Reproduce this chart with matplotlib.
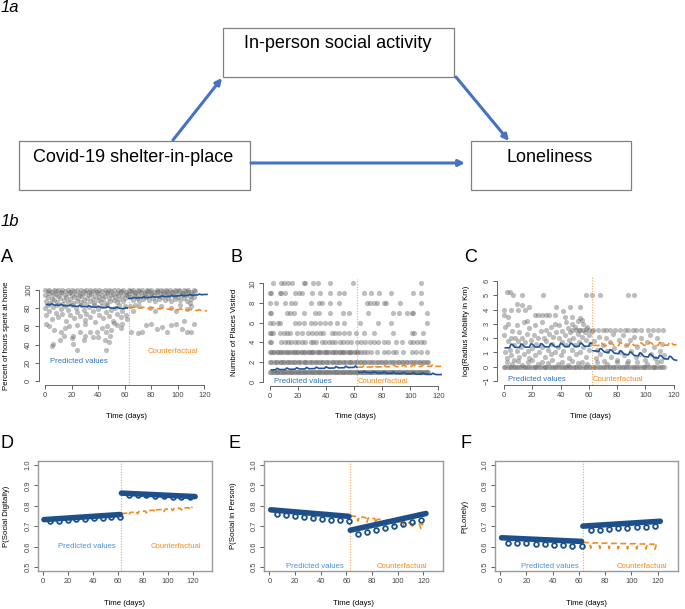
#!/usr/bin/env python3

import numpy as np
from matplotlib import pyplot as plt
from matplotlib.patches import Rectangle

# * Configuration

FIG_W, FIG_H = 685, 609
DPI = 100

BLUE_LINE = "#1f5597"
BLUE_DOT = "#1d4f8b"
BLUE_TEXT = "#2e72c0"
BLUE_TEXT_LIGHT = "#4d8fd8"
ORANGE = "#f28b1e"
ORANGE_VLINE = "#f6a65e"
GRAY_PT = "#6e6e6e"
ARROW = "#4472c4"
SMALL = 5.4

plt.rcParams["font.family"] = ["Liberation Sans", "DejaVu Sans"]

# * Data: panel A (percent of hours at home)

A_TOP_ROW = [(0,100),(2,99),(3,100),(5,98),(7,100),(8,99),(10,100),(12,97),(13,100),(15,99),
             (17,100),(19,98),(20,100),(22,99),(24,100),(26,97),(27,100),(29,99),(31,100),(33,98),
             (34,100),(36,99),(38,100),(40,97),(41,100),(43,99),(45,100),(47,98),(48,100),(50,99),
             (52,100),(54,97),(55,100),(57,99),(59,100),(61,98),(63,100),(64,99),(66,100),(68,98),
             (70,100),(71,99),(73,100),(75,97),(77,100),(78,99),(80,100),(82,98),(84,100),(85,99),
             (87,100),(89,97),(91,100),(92,99),(94,100),(96,98),(98,100),(99,99),(101,100),(103,97),
             (105,100),(106,99),(108,100),(110,98),(112,100)]
A_PRE_DENSE = [(0,95),(1,88),(2,92),(3,97),(4,86),(5,90),(6,94),(7,89),(8,96),(9,87),(10,93),
               (11,91),(12,98),(13,85),(14,89),(15,95),(16,92),(17,87),(18,97),(19,90),(20,94),
               (21,86),(22,92),(23,96),(24,88),(25,91),(26,95),(27,87),(28,93),(29,89),(30,97),
               (31,85),(32,91),(33,94),(34,88),(35,96),(36,90),(37,86),(38,93),(39,98),(40,89),
               (41,92),(42,87),(43,95),(44,90),(45,93),(46,86),(47,97),(48,91),(49,88),(50,94),
               (51,96),(52,89),(53,92),(54,87),(55,95),(56,90),(57,98),(58,93),(59,88),(60,91),
               (61,96),(62,94)]
A_PRE_MID = [(0,80),(1,72),(2,84),(3,77),(5,68),(6,81),(8,75),(9,83),(10,70),(12,79),(13,74),
             (15,82),(16,66),(17,78),(19,73),(20,84),(22,69),(23,80),(24,76),(26,71),(27,83),
             (29,78),(30,67),(31,74),(33,81),(34,70),(36,77),(37,84),(38,65),(40,79),(41,73),
             (43,82),(44,69),(46,76),(47,83),(48,71),(50,78),(51,66),(53,80),(54,74),(56,84),
             (57,70),(58,77),(60,82),(61,72),(62,68)]
A_PRE_LOW = [(5,39),(6,41),(11,45),(14,50),(21,41),(24,34),(29,45),(34,54),(36,48),(45,45),
             (46,34),(49,50),(48,43),(21,50),(12,54),(7,56),(15,58),(20,47),(26,54),(30,50),
             (39,54),(43,58),(40,48),(46,54),(50,56),(1,63),(30,63),(47,60),(54,61),(57,58),
             (18,60),(24,62),(58,63),(3,60),(52,64)]
A_POST_DENSE = [(63,96),(64,92),(65,99),(66,89),(67,94),(68,97),(69,91),(70,95),(71,88),(72,98),
                (73,93),(74,90),(75,96),(76,92),(77,99),(78,89),(79,94),(80,97),(81,91),(82,95),
                (83,88),(84,98),(85,93),(86,90),(87,96),(88,92),(89,99),(90,89),(91,94),(92,97),
                (93,91),(94,95),(95,88),(96,98),(97,93),(98,90),(99,96),(100,92),(101,99),(102,89),
                (103,94),(104,97),(105,91),(106,95),(107,88),(108,98),(109,93),(110,90),(111,96),
                (112,92),(113,99)]
A_POST_MID = [(64,82),(68,84),(71,82),(79,80),(87,82),(95,80),(102,84),(107,79),(110,82),
              (66,77),(83,77),(99,77),(109,86)]
A_POST_LOW = [(65,54),(70,53),(73,54),(76,61),(80,63),(84,57),(88,59),(92,54),(95,61),(99,63),
              (103,57),(105,66),(107,54),(110,54),(112,63)]

A_PRE_LINE_D = [1,4,5,7,8,11,12,14,15,18,19,21,22,25,26,28,29,32,33,35,36,39,40,42,43,46,47,49,50,
                53,54,56,57,60,61,62]
A_PRE_LINE_V = [84.0,83.8,85.0,83.5,83.4,83.2,84.4,82.9,82.8,82.6,83.8,82.4,82.3,82.1,83.3,81.9,81.8,
                81.6,82.8,81.4,81.3,81.1,82.3,80.9,80.8,80.6,81.8,80.4,80.3,80.1,81.3,79.9,79.8,79.6,
                80.8,80.2]
POST_LINE_D = [63,66,67,69,70,73,74,76,77,80,81,83,84,87,88,90,91,94,95,97,98,101,102,104,105,108,
               109,111,112,115,116,118,119,122]
A_POST_LINE_V = [90.8,91.0,92.0,91.1,91.3,91.5,92.5,91.6,91.8,92.0,93.0,92.1,92.3,92.5,93.5,92.6,92.8,
                 93.0,94.0,93.2,93.4,93.6,94.6,93.7,93.9,94.1,95.1,94.2,94.4,94.6,95.6,94.8,95.0,95.2]
A_CF_LINE_V = [80.8,80.6,81.6,80.5,80.4,80.2,81.2,80.0,79.9,79.8,80.8,79.6,79.5,79.3,80.3,79.1,79.0,
               78.8,79.8,78.7,78.6,78.4,79.4,78.2,78.1,77.9,78.9,77.8,77.7,77.5,78.5,77.4,77.3,77.1]

# * Data: panel B (number of places visited, one list of days per count)

B_ROW_1 = [0,1,2,3,4,5,6,7,8,9,10,11,12,13,14,15,16,17,18,19,20,21,22,23,24,25,26,27,28,29,30,31,32,
           33,34,35,36,37,38,39,40,41,42,43,44,45,46,47,48,49,50,51,52,53,54,55,56,57,58,59,60,61,62,
           63,64,65,66,67,68,69,70,71,72,73,74,75,76,77,78,79,80,81,82,83,84,85,86,87,88,89,90,91,92,
           93,94,95,96,97,98,99,100,101,102,103,104,105,106,107,108,109,110,111,112,113]
B_ROW_2 = [0,1,3,4,5,7,8,9,10,12,13,14,16,17,18,20,21,22,24,25,26,28,29,30,32,33,34,36,37,38,40,41,
           42,44,45,46,48,49,50,52,53,54,56,57,58,60,61,62,64,65,67,68,70,71,73,74,76,77,79,80,82,83,
           85,86,88,89,91,92,94,95,97,98,100,101,103,104,106,107,109,110,112,113]
B_ROW_3 = [0,1,2,3,5,6,7,8,9,11,12,13,14,16,17,18,19,20,22,23,24,25,27,28,29,30,31,33,34,35,36,38,
           39,40,41,42,44,45,46,47,49,50,51,52,53,55,56,57,58,60,61,62,63,65,67,69,72,76,81,84,88,90,
           95,101,104,108,112]
B_ROW_4 = [0,1,8,11,13,15,18,20,23,25,29,31,33,37,39,42,44,46,50,52,55,58,62,65,68,71,74,77,81,84,
           90,94,100,102,105,108,110]
B_ROW_5 = [0,1,2,7,10,12,14,19,23,27,30,33,36,38,44,46,49,53,56,61,67,74,88,101,103,109]
B_ROW_6 = [0,2,6,7,18,21,24,29,32,36,39,43,48,53,64,77,86,112]
B_ROW_7 = [0,1,12,14,17,24,32,35,43,52,56,70,88,92,98,101,102,112]
B_ROW_8 = [0,4,11,15,18,29,35,37,43,49,69,71,74,76,81,83,93,108]
B_ROW_9 = [0,1,7,8,11,18,21,23,30,36,43,49,53,67,72,78,86,102,108]
B_ROW_10 = [2,8,10,13,16,24,25,31,34,43,59,108]

B_PRE_LINE_V = [1.20,1.21,1.36,1.23,1.23,1.24,1.39,1.26,1.26,1.27,1.42,1.29,1.29,1.30,1.45,1.31,1.32,
                1.33,1.48,1.34,1.35,1.36,1.51,1.37,1.38,1.39,1.54,1.40,1.41,1.42,1.57,1.43,1.44,1.45,
                1.60,1.46]
B_POST_LINE_V = [0.95,0.94,1.06,0.93,0.92,0.91,1.03,0.90,0.89,0.88,1.00,0.87,0.86,0.85,0.97,0.84,0.83,
                 0.82,0.94,0.81,0.80,0.79,0.91,0.78,0.77,0.76,0.88,0.75,0.74,0.74,0.86,0.73,0.72,0.72]
B_CF_LINE_V = [1.48,1.48,1.68,1.49,1.49,1.50,1.70,1.50,1.50,1.51,1.71,1.51,1.52,1.52,1.72,1.52,1.53,
               1.53,1.73,1.53,1.54,1.54,1.74,1.54,1.54,1.55,1.75,1.55,1.55,1.56,1.76,1.56,1.56,1.56]

# * Data: panel C (log radius of mobility)

C_ZERO_X = [0,1,3,4,5,7,8,9,11,12,14,15,16,18,19,21,22,23,25,26,28,29,30,32,33,35,36,37,39,40,42,43,
            44,46,47,49,50,51,53,54,56,57,58,60,61,63,64,65,67,68,70,71,72,74,75,77,78,79,81,82,84,85,
            86,88,89,91,92,93,95,96,98,99,100,102,103,105,106,107,109,110,112,113]
C_NEAR_ZERO = [(2,0.3),(6,0.2),(10,0.4),(13,0.15),(17,0.3),(20,0.5),(24,0.2),(27,0.35),(31,0.25),
               (34,0.45),(38,0.2),(41,0.3),(45,0.15),(48,0.4),(52,0.25),(55,0.3),(59,0.2),(66,0.3),
               (73,0.2),(80,0.35),(87,0.25),(94,0.3),(101,0.2),(108,0.3)]
C_ROW_26 = [(48,2.6),(51,2.6),(53,2.55),(56,2.6),(58,2.65),(60,2.6),(63,2.6),(66.6,2.6),(70,2.6),
            (72.4,2.6),(74.8,2.6),(78.4,2.6),(82,2.6),(85.4,2.6),(87.8,2.6),(91.3,2.6),(93.6,2.6),
            (97.2,2.6),(102,2.6),(105.4,2.6),(109,2.6),(112.5,2.6)]
C_PRE_MID = [(0,2.2),(1,1.0),(1,2.8),(2,0.6),(3,1.8),(3,3.0),(4,1.2),(5,2.0),(5,0.8),(6,2.5),(7,1.5),
             (7,0.5),(8,2.0),(9,2.9),(9,1.1),(10,1.8),(11,0.7),(11,2.4),(12,1.4),(13,2.0),(14,3.1),
             (14,0.9),(15,1.7),(16,2.3),(17,1.1),(18,2.7),(18,0.6),(19,1.9),(20,1.3),(21,2.2),(22,0.8),
             (22,2.9),(23,1.6),(24,2.0),(25,1.0),(26,2.5),(27,1.4),(27,3.1),(28,2.0),(29,0.7),(30,1.8),
             (30,2.6),(31,1.2),(32,2.3),(33,0.9),(33,2.8),(34,1.6),(35,2.1),(36,1.0),(36,3.0),(37,2.4),
             (38,1.4),(39,2.0),(39,2.9),(40,0.8),(41,1.7),(41,2.5),(42,1.1),(43,2.2),(44,3.1),(44,1.5),
             (45,2.7),(46,0.6),(46,1.9),(47,2.4),(48,1.2),(48,3.0),(49,2.0),(50,1.5),(50,2.8),(51,0.9),
             (52,2.3),(52,3.2),(53,1.7),(54,2.6),(54,1.0),(55,2.1),(56,3.0),(56,1.4),(57,2.4),(58,0.7),
             (58,1.9),(59,2.8),(60,1.2),(60,2.2),(61,1.6),(62,2.5)]
C_POST_MID = [(64,1.8),(65,0.6),(66,1.2),(67,2.1),(68,0.9),(70,1.5),(71,0.4),(72,2.0),(73,1.1),(75,1.7),
              (76,0.7),(77,2.3),(78,1.3),(80,0.5),(81,1.9),(82,1.0),(84,2.2),(85,0.8),(86,1.5),(88,0.4),
              (89,1.9),(90,1.1),(92,2.1),(93,0.7),(94,1.4),(96,0.9),(97,2.0),(99,1.2),(100,0.5),
              (101,1.7),(103,2.2),(104,0.9),(106,1.4),(107,0.6),(108,2.0),(110,1.1),(111,0.4),
              (112,1.6),(113,0.8)]
C_HIGH = [(0,4.0),(0,3.6),(5,4.0),(9,4.4),(10,4.0),(12.5,4.3),(15,4.0),(18,4.2),(22,3.6),(27,3.6),
          (32,3.6),(36,3.6),(37,4.2),(42,3.9),(47,4.2),(54,4.2),(43,3.5),(48,3.5),(54,3.4),(55,3.3),
          (30,3.6),(24,3.6),(3,3.5),(16,3.2)]
C_TOP = [(2.3,5.25),(4.2,5.25),(6.6,5.05),(12.5,5.05),(27.8,5.05),(58.3,5.05),(61.9,5.05),
         (68.2,5.05),(87.8,5.05),(92,5.05)]

C_PRE_LINE_D = [1,4,5,6,8,11,12,13,15,18,19,20,22,25,26,27,29,32,33,34,36,39,40,41,43,46,47,48,50,
                53,54,55,57,60,61,62]
C_PRE_LINE_V = [1.32,1.33,1.58,1.56,1.35,1.35,1.59,1.57,1.37,1.37,1.60,1.58,1.38,1.38,1.61,1.59,1.39,
                1.39,1.62,1.60,1.40,1.40,1.63,1.61,1.41,1.41,1.64,1.62,1.42,1.42,1.65,1.63,1.43,1.43,
                1.66,1.64]
C_POST_LINE_D = [63,67,68,69,71,74,75,76,78,81,82,83,85,88,89,90,92,95,96,97,99,102,103,104,106,109,
                 110,111,113,116,117,118,120,122]
C_POST_LINE_V = [1.12,1.07,1.27,1.25,1.03,0.99,1.19,1.17,0.95,0.91,1.11,1.09,0.87,0.83,1.03,1.01,0.79,
                 0.76,0.96,0.94,0.71,0.68,0.88,0.86,0.64,0.60,0.80,0.78,0.56,0.53,0.73,0.71,0.49,0.45]
C_CF_LINE_V = [1.50,1.48,1.68,1.66,1.48,1.48,1.68,1.66,1.48,1.48,1.68,1.66,1.49,1.49,1.69,1.67,1.49,
               1.49,1.69,1.67,1.50,1.50,1.70,1.68,1.50,1.50,1.70,1.68,1.51,1.51,1.71,1.69,1.52,1.55]

# * Data: panels D-F (predicted probabilities)

BAND_PRE_D = [1, 62]
BAND_POST_D = [63, 122]
DIP_PRE_D = [6, 13, 20, 27, 34, 41, 48, 55, 62]
DIP_POST_D = [69, 76, 83, 90, 97, 104, 111, 118]
CF_D = [63,68,69,70,75,76,77,82,83,84,89,90,91,96,97,98,103,104,105,110,111,112,117,118,119,120]

D_BAND_PRE = [0.732, 0.757]
D_BAND_POST = [0.862, 0.845]
D_DIP_PRE = [0.724, 0.727, 0.730, 0.733, 0.736, 0.738, 0.741, 0.744, 0.747]
D_DIP_POST = [0.855, 0.853, 0.851, 0.849, 0.847, 0.845, 0.843, 0.841]
D_CF = [0.762,0.764,0.755,0.767,0.770,0.760,0.772,0.774,0.765,0.776,0.778,0.769,0.780,0.782,0.772,
        0.783,0.785,0.776,0.786,0.788,0.779,0.789,0.790,0.781,0.791,0.792]

E_BAND_PRE = [0.780, 0.748]
E_BAND_POST = [0.680, 0.762]
E_DIP_PRE = [0.760, 0.755, 0.751, 0.746, 0.742, 0.737, 0.732, 0.728, 0.724]
E_DIP_POST = [0.660, 0.670, 0.680, 0.690, 0.700, 0.710, 0.720, 0.730]
E_CF = [0.750,0.748,0.725,0.746,0.742,0.720,0.740,0.737,0.715,0.734,0.731,0.708,0.729,0.726,0.703,
        0.723,0.720,0.697,0.718,0.716,0.692,0.713,0.710,0.688,0.709,0.709]

F_BAND_PRE = [0.643, 0.625]
F_BAND_POST = [0.700, 0.724]
F_DIP_PRE = [0.619, 0.617, 0.615, 0.613, 0.610, 0.608, 0.606, 0.604, 0.602]
F_DIP_POST = [0.680, 0.683, 0.686, 0.689, 0.692, 0.695, 0.698, 0.701]
F_CF = [0.620,0.619,0.592,0.617,0.618,0.591,0.616,0.617,0.590,0.615,0.616,0.589,0.614,0.615,0.588,
        0.613,0.614,0.588,0.612,0.613,0.587,0.611,0.612,0.587,0.610,0.610]

X_TICKS = [0, 20, 40, 60, 80, 100, 120]
PROB_TICKS = [0.5, 0.6, 0.7, 0.8, 0.9, 1.0]

# * Helpers

def px_axes(fig, box):
    left, top, right, bottom = box
    return fig.add_axes([left / FIG_W, 1 - bottom / FIG_H,
                         (right - left) / FIG_W, (bottom - top) / FIG_H])

def place_labels(ax, box, xlab_py, ylab_px):
    left, top, right, bottom = box
    ax.xaxis.set_label_coords(0.5, (bottom - xlab_py) / (bottom - top))
    ax.yaxis.set_label_coords((ylab_px - left) / (right - left), 0.5)
    ax.xaxis.label.set_verticalalignment("center")
    ax.yaxis.label.set_verticalalignment("center")

def style_axes(ax, box, xlim, ylim, yticks, ylabel, xlab_py, ylab_px, open_axes, tick_fmt="{:g}"):
    ax.set_xlim(*xlim)
    ax.set_ylim(*ylim)
    ax.set_xticks(X_TICKS)
    ax.set_yticks(yticks)
    ax.set_xticklabels([str(t) for t in X_TICKS])
    ax.set_yticklabels([tick_fmt.format(t).replace("-", "\u2212") for t in yticks],
                       rotation=90, va="center")
    ax.tick_params(direction="out", length=2.6, width=0.6, colors="#444444",
                   labelsize=SMALL, pad=2.5)
    ax.tick_params(axis="y", pad=2.0)
    if open_axes:
        for s in ("top", "right"):
            ax.spines[s].set_visible(False)
        ax.spines["left"].set_bounds(yticks[0], yticks[-1])
        ax.spines["bottom"].set_bounds(X_TICKS[0], X_TICKS[-1])
        for s in ("left", "bottom"):
            ax.spines[s].set_color("#666666")
            ax.spines[s].set_linewidth(0.7)
    else:
        for s in ax.spines.values():
            s.set_color("#9a9a9a")
            s.set_linewidth(1.0)
    ax.set_xlabel("Time (days)", fontsize=5.6)
    ax.set_ylabel(ylabel, fontsize=5.6)
    place_labels(ax, box, xlab_py, ylab_px)
    ax.patch.set_alpha(0)

def scatter_pts(ax, *groups):
    pts = np.array([p for g in groups for p in g], dtype=float)
    ax.scatter(pts[:, 0], pts[:, 1], s=14, color=GRAY_PT, alpha=0.45, linewidths=0, zorder=1)

def scatter_rows(ax, rows):
    for level, xs in rows:
        ax.scatter(xs, [level] * len(xs), s=14, color=GRAY_PT, alpha=0.45, linewidths=0, zorder=1)

def plot_lines(ax, pre_d, pre_v, post_d, post_v, cf_d, cf_v, vline):
    ax.axvline(vline, color=ORANGE_VLINE, lw=0.8, ls=(0, (1, 1.4)), zorder=2)
    ax.plot(pre_d, pre_v, color=BLUE_LINE, lw=1.2, zorder=4)
    ax.plot(post_d, post_v, color=BLUE_LINE, lw=1.2, zorder=4)
    ax.plot(cf_d, cf_v, color=ORANGE, lw=1.2, ls=(0, (4, 2)), zorder=3)

def plot_prob(ax, band_pre, band_post, dip_pre, dip_post, cf, vline):
    ax.axvline(vline, color=ORANGE_VLINE, lw=0.8, ls=(0, (1, 1.4)), zorder=2)
    ax.plot(CF_D, cf, color=ORANGE, lw=1.2, ls=(0, (3.5, 1.8)), zorder=3)
    ax.plot(BAND_PRE_D, band_pre, color=BLUE_DOT, lw=4.0, solid_capstyle="round", zorder=4)
    ax.plot(BAND_POST_D, band_post, color=BLUE_DOT, lw=4.0, solid_capstyle="round", zorder=4)
    ax.plot(DIP_PRE_D, dip_pre, ls="none", marker="o", ms=3.4, mfc="none", mec=BLUE_DOT,
            mew=1.3, zorder=4)
    ax.plot(DIP_POST_D, dip_post, ls="none", marker="o", ms=3.4, mfc="none", mec=BLUE_DOT,
            mew=1.3, zorder=4)

def panel_text(ax, pred_xy, cf_xy, pred_color):
    ax.text(pred_xy[0], pred_xy[1], "Predicted values", color=pred_color, fontsize=5.6,
            ha="center", va="center", zorder=5)
    ax.text(cf_xy[0], cf_xy[1], "Counterfactual", color=ORANGE, fontsize=5.6,
            ha="center", va="center", zorder=5)

# * Diagram

def draw_diagram(fig):
    ax = fig.add_axes([0, 0, 1, 1])
    ax.set_xlim(0, FIG_W)
    ax.set_ylim(FIG_H, 0)
    ax.axis("off")
    boxes = [((223, 28, 454, 77), "In-person social activity", (338, 44)),
             ((19, 141, 250, 190), "Covid-19 shelter-in-place", (133, 157)),
             ((471, 141, 631, 190), "Loneliness", (550, 157))]
    for (l, t, r, b), label, (tx, ty) in boxes:
        ax.add_patch(Rectangle((l, t), r - l, b - t, fill=False, ec="#808080", lw=0.9))
        ax.text(tx, ty, label, fontsize=13, ha="center", va="center")
    for start, end in [((173, 140), (222, 78)), ((456, 77), (509, 141)), ((251, 163), (465, 163))]:
        ax.annotate("", xy=end, xytext=start,
                    arrowprops=dict(arrowstyle="-|>", color=ARROW, lw=2.2, mutation_scale=9,
                                    shrinkA=0, shrinkB=0))
    ax.text(1, 8, "1a", fontsize=12, style="italic", va="center", ha="left")
    ax.text(1, 222, "1b", fontsize=12, style="italic", va="center", ha="left")
    for label, x, y in [("A", 1, 257), ("B", 231, 257), ("C", 464, 257),
                        ("D", 0, 443), ("E", 229, 443), ("F", 461, 443)]:
        ax.text(x, y, label, fontsize=13, va="center", ha="left")

# * Script

if __name__ == "__main__":
    fig = plt.figure(figsize=(FIG_W / DPI, FIG_H / DPI), dpi=DPI)
    draw_diagram(fig)

    # A
    box = (38.5, 286.4, 213.5, 384.6)
    ax = px_axes(fig, box)
    scatter_pts(ax, A_TOP_ROW, A_PRE_DENSE, A_PRE_MID, A_PRE_LOW, A_POST_DENSE, A_POST_MID, A_POST_LOW)
    plot_lines(ax, A_PRE_LINE_D, A_PRE_LINE_V, POST_LINE_D, A_POST_LINE_V, POST_LINE_D, A_CF_LINE_V, 63)
    panel_text(ax, (25.5, 21), (96, 32), BLUE_TEXT)
    style_axes(ax, box, (-4.9, 126.9), (-4, 104), [0, 20, 40, 60, 80, 100],
               "Percent of hours spent at home", 416.7, 6.7, True)

    # B
    box = (263.1, 279.4, 448.0, 385.6)
    ax = px_axes(fig, box)
    scatter_rows(ax, [(1, B_ROW_1), (2, B_ROW_2), (3, B_ROW_3), (4, B_ROW_4), (5, B_ROW_5),
                      (6, B_ROW_6), (7, B_ROW_7), (8, B_ROW_8), (9, B_ROW_9), (10, B_ROW_10)])
    plot_lines(ax, A_PRE_LINE_D, B_PRE_LINE_V, POST_LINE_D, B_POST_LINE_V, POST_LINE_D, B_CF_LINE_V, 62)
    panel_text(ax, (23.7, 0.05), (80.8, 0.05), BLUE_TEXT)
    style_axes(ax, box, (-4.9, 126.9), (-0.4, 10.4), [0, 2, 4, 6, 8, 10],
               "Number of Places Visited", 416.7, 234, True)

    # C
    box = (497.0, 277.0, 683.5, 385.0)
    ax = px_axes(fig, box)
    scatter_rows(ax, [(0, C_ZERO_X)])
    scatter_pts(ax, C_NEAR_ZERO, C_ROW_26, C_PRE_MID, C_POST_MID, C_HIGH, C_TOP)
    plot_lines(ax, C_PRE_LINE_D, C_PRE_LINE_V, C_POST_LINE_D, C_POST_LINE_V, C_POST_LINE_D,
               C_CF_LINE_V, 62)
    panel_text(ax, (23.1, -0.88), (80.7, -0.88), BLUE_TEXT)
    style_axes(ax, box, (-4.9, 126.9), (-1.28, 6.28), [-1, 0, 1, 2, 3, 4, 5, 6],
               "log(Radius Mobility in Km)", 416.7, 467, True)

    # D, E, F
    prob_panels = [
        ((37.7, 460.9, 212.0, 571.0), "P(Social Digitally)", D_BAND_PRE, D_BAND_POST,
         D_DIP_PRE, D_DIP_POST, D_CF, 63, (35.7, 0.598), (106.6, 0.598), 6.7),
        ((264.3, 460.9, 443.3, 571.0), "P(Social in Person)", E_BAND_PRE, E_BAND_POST,
         E_DIP_PRE, E_DIP_POST, E_CF, 63, (35.6, 0.503), (103.2, 0.503), 233.3),
        ((495.0, 460.9, 678.0, 571.0), "P(Lonely)", F_BAND_PRE, F_BAND_POST,
         F_DIP_PRE, F_DIP_POST, F_CF, 63, (38.0, 0.503), (108.0, 0.503), 465.0),
    ]
    for box, ylabel, bpre, bpost, dpre, dpost, cf, vline, pred_xy, cf_xy, ylab_px in prob_panels:
        ax = px_axes(fig, box)
        plot_prob(ax, bpre, bpost, dpre, dpost, cf, vline)
        panel_text(ax, pred_xy, cf_xy, BLUE_TEXT_LIGHT)
        style_axes(ax, box, (-4, 135.5), (0.48, 1.02), PROB_TICKS, ylabel, 603.3, ylab_px, False,
                   tick_fmt="{:.1f}")

    fig.savefig("out.png", dpi=DPI)
